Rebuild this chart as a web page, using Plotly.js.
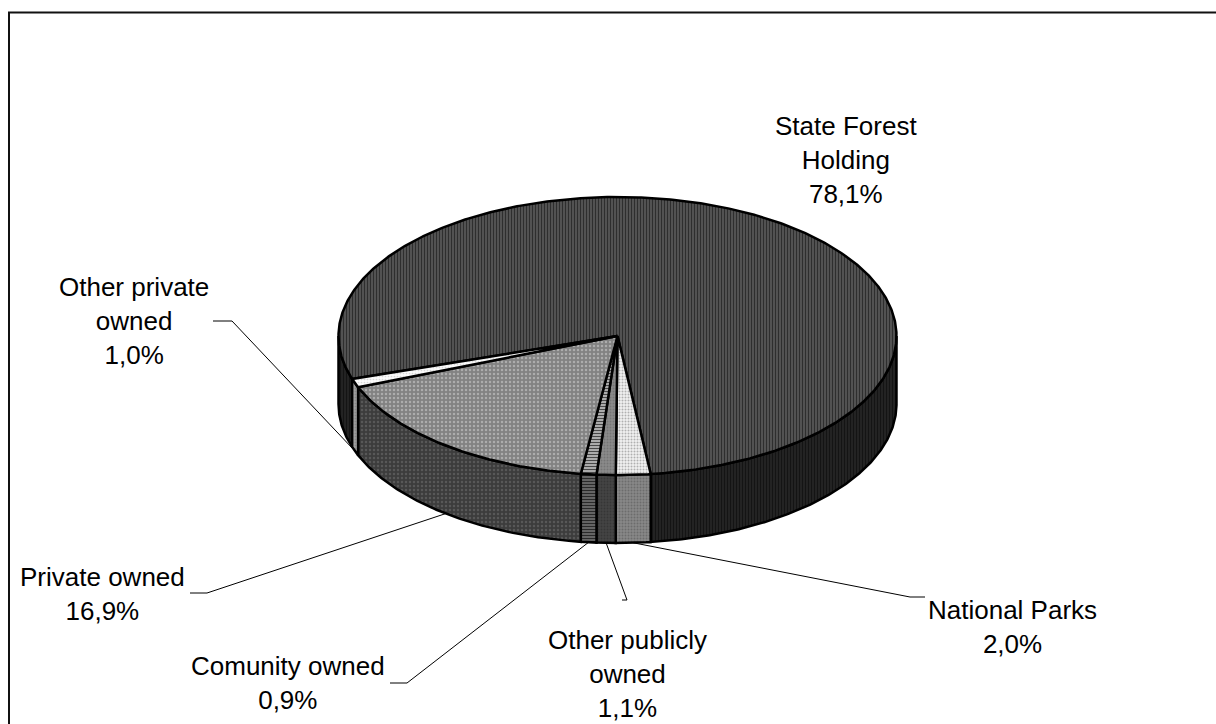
<!DOCTYPE html>
<html>
<head>
<meta charset="utf-8">
<script src="https://cdn.plot.ly/plotly-3.0.1.min.js"></script>
<style>
  html, body { margin: 0; padding: 0; background: #fff; }
  #chart { width: 1216px; height: 724px; }
</style>
</head>
<body>
<div id="chart"></div>
<script>
// Forest ownership shares (%)
const categories = ['State Forest Holding', 'National Parks', 'Other publicly owned',
                    'Comunity owned', 'Private owned', 'Other private owned'];
const shares = [78.1, 2.0, 1.1, 0.9, 16.9, 1.0];
const labelLines = [['State Forest', 'Holding'], ['National Parks'], ['Other publicly', 'owned'],
                    ['Comunity owned'], ['Private owned'], ['Other private', 'owned']];

// Pie geometry in pixel space (x right, y down)
const firstSliceAngle = 252;          // degrees clockwise from 12 o'clock
const cx = 617.5, cy = 336, rx = 279, ry = 139, depth = 68;

// Face styling per slice: top face and cylinder wall
const topStyle = [
  { shape: '|', bg: '#5e5e5e', fg: '#2e2e2e', size: 3, solidity: 0.5 },
  { shape: '.', bg: '#f2f2f2', fg: '#b0b0b0', size: 3, solidity: 0.35 },
  { shape: '.', bg: '#8a8a8a', fg: '#747474', size: 3, solidity: 0.3 },
  { shape: '-', bg: '#c0c0c0', fg: '#484848', size: 3, solidity: 0.45 },
  { shape: '.', bg: '#828282', fg: '#acacac', size: 4, solidity: 0.3 },
  { shape: '.', bg: '#fbfbfb', fg: '#d8d8d8', size: 3, solidity: 0.25 }
];
const sideStyle = [
  { shape: '|', bg: '#282828', fg: '#141414', size: 3, solidity: 0.5 },
  { shape: '.', bg: '#888888', fg: '#6c6c6c', size: 3, solidity: 0.35 },
  { shape: '.', bg: '#444444', fg: '#363636', size: 3, solidity: 0.3 },
  { shape: '-', bg: '#707070', fg: '#2a2a2a', size: 3, solidity: 0.45 },
  { shape: '.', bg: '#3c3c3c', fg: '#585858', size: 4, solidity: 0.3 },
  { shape: '.', bg: '#a0a0a0', fg: '#868686', size: 3, solidity: 0.3 }
];

// Label placement (centre of text block) and leader-line elbow points
const labelPos = [[846, 160], [1012, 627], [627, 674], [288, 683], [102, 594], [134, 321]];
const leaderElbow = [null, [[925, 597], [910, 597]], [[622, 600], [627, 600]],
                     [[390, 683], [407, 683]], [[190, 593], [207, 593]], [[213, 321], [232, 321]]];

function pt(theta, dz) {
  const t = theta * Math.PI / 180;
  return [cx + rx * Math.sin(t), cy - ry * Math.cos(t) + dz];
}

function pattern(s) {
  return { shape: s.shape, bgcolor: s.bg, fgcolor: s.fg, size: s.size, solidity: s.solidity, fillmode: 'replace' };
}

const total = shares.reduce((a, b) => a + b, 0);
const bounds = [];
let acc = firstSliceAngle;
shares.forEach(v => { const a1 = acc; acc += v / total * 360; bounds.push([a1, acc]); });

const traces = [];
const edge = { color: '#000', width: 2.5 };

// Cylinder wall: only the front half (90°..270°) is visible
bounds.forEach(([a1, a2], i) => {
  [-360, 0, 360].forEach(k => {
    const lo = Math.max(a1, 90 + k), hi = Math.min(a2, 270 + k);
    if (hi <= lo) return;
    const xs = [], ys = [];
    const n = Math.max(4, Math.ceil((hi - lo) * 2));
    for (let j = 0; j <= n; j++) { const p = pt(lo + (hi - lo) * j / n, 0); xs.push(p[0]); ys.push(p[1]); }
    for (let j = n; j >= 0; j--) { const p = pt(lo + (hi - lo) * j / n, depth); xs.push(p[0]); ys.push(p[1]); }
    xs.push(xs[0]); ys.push(ys[0]);
    traces.push({ x: xs, y: ys, type: 'scatter', mode: 'lines', fill: 'toself',
                  fillcolor: sideStyle[i].bg, fillpattern: pattern(sideStyle[i]),
                  line: edge, hoverinfo: 'skip', showlegend: false, name: categories[i] });
  });
});

// Top faces
bounds.forEach(([a1, a2], i) => {
  const xs = [cx], ys = [cy];
  const n = Math.max(4, Math.ceil((a2 - a1) * 2));
  for (let j = 0; j <= n; j++) { const p = pt(a1 + (a2 - a1) * j / n, 0); xs.push(p[0]); ys.push(p[1]); }
  xs.push(cx); ys.push(cy);
  traces.push({ x: xs, y: ys, type: 'scatter', mode: 'lines', fill: 'toself',
                fillcolor: topStyle[i].bg, fillpattern: pattern(topStyle[i]),
                line: edge, hoverinfo: 'skip', showlegend: false, name: categories[i] });
});

// Leader lines from the lower rim of each slice to its label
bounds.forEach(([a1, a2], i) => {
  if (!leaderElbow[i]) return;
  const anchor = pt((a1 + a2) / 2, depth);
  const [e1, e2] = leaderElbow[i];
  traces.push({ x: [e1[0], e2[0], anchor[0]], y: [e1[1], e2[1], anchor[1]],
                type: 'scatter', mode: 'lines', line: { color: '#000', width: 1 },
                hoverinfo: 'skip', showlegend: false });
});

const fmt = v => v.toFixed(1).replace('.', ',') + '%';
const annotations = shares.map((v, i) => ({
  x: labelPos[i][0], y: labelPos[i][1], xref: 'x', yref: 'y',
  text: labelLines[i].concat([fmt(v)]).join('<br>'),
  showarrow: false, xanchor: 'center', yanchor: 'middle', align: 'center', borderpad: 0,
  font: { family: 'Liberation Sans, Arial, sans-serif', size: 26, color: '#000' }
}));

const layout = {
  width: 1216, height: 724,
  margin: { l: 0, r: 0, t: 0, b: 0 },
  paper_bgcolor: '#fff', plot_bgcolor: '#fff',
  xaxis: { range: [0, 1216], visible: false, fixedrange: true },
  yaxis: { range: [724, 0], visible: false, fixedrange: true },
  annotations: annotations,
  shapes: [{ type: 'rect', xref: 'x', yref: 'y', x0: 9, y0: 12.5, x1: 1240, y1: 750,
             line: { color: '#111', width: 2 }, fillcolor: 'rgba(0,0,0,0)', layer: 'below' }],
  showlegend: false
};

Plotly.newPlot('chart', traces, layout, { staticPlot: true, displayModeBar: false });
</script>
</body>
</html>
